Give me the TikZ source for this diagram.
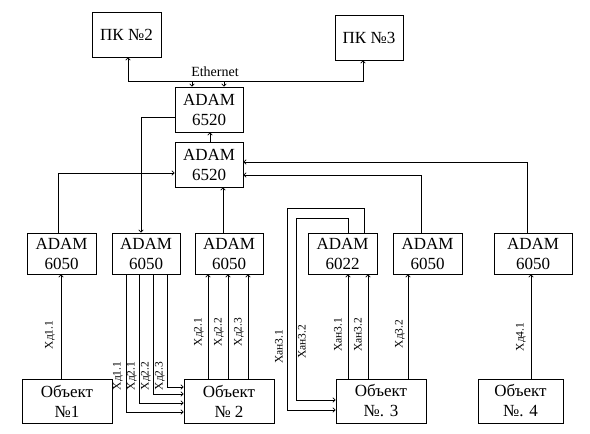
\documentclass[tikz,border=0pt]{standalone}
\usepackage{fontspec}
\setmainfont{Liberation Serif}
\newfontfamily\tnr{Liberation Serif}
\usetikzlibrary{arrows.meta}
\begin{document}
\begin{tikzpicture}[x=1pt,y=-1pt,
  box/.style={draw,line width=0.8pt,align=center,inner sep=0pt,font=\tnr\fontsize{17}{20}\selectfont},
  wire/.style={line width=0.7pt},
  arr/.style={wire,-{To[length=3pt,width=5pt]}},
  darr/.style={wire,{To[length=3pt,width=5pt]}-{To[length=3pt,width=5pt]}},
  lbl/.style={rotate=90,inner sep=0pt,font=\tnr\fontsize{11.5}{12}\selectfont}]
\fill[white] (0,0) rectangle (590,434);
\useasboundingbox (0,0) rectangle (590,434);
% top PCs
\node[box,minimum width=69,minimum height=45] (pk2) at (126.5,34.5) {ПК №2};
\node[box,minimum width=68,minimum height=45] (pk3) at (369,37.5) {ПК №3};
% ADAM 6520
\node[box,minimum width=68,minimum height=45] (at) at (209,109.5) {ADAM\\6520};
\node[box,minimum width=68,minimum height=45] (ab) at (209,164.5) {ADAM\\6520};
% row of modules
\node[box,minimum width=69,minimum height=41] (b1) at (61.5,253.5) {ADAM\\6050};
\node[box,minimum width=68,minimum height=41] (b2) at (146,253.5) {ADAM\\6050};
\node[box,minimum width=68,minimum height=41] (b3) at (229,253.5) {ADAM\\6050};
\node[box,minimum width=69,minimum height=41] (b4) at (342.5,253.5) {ADAM\\6022};
\node[box,minimum width=69,minimum height=41] (b5) at (427.5,253.5) {ADAM\\6050};
\node[box,minimum width=78,minimum height=41] (b6) at (533,253.5) {ADAM\\6050};
% objects
\node[box,minimum width=90,minimum height=44] (o1) at (67,401) {Объект\\№1};
\node[box,minimum width=90,minimum height=44] (o2) at (229,401) {Объект\\№ 2};
\node[box,minimum width=90,minimum height=44] (o3) at (381,401) {Объект\\№. 3};
\node[box,minimum width=85,minimum height=44] (o4) at (520.5,401) {Объект\\№. 4};
% Ethernet
\node[inner sep=0pt,font=\tnr\fontsize{14}{15}\selectfont] (eth) at (215,72) {Ethernet};
\coordinate (eL) at (128,81);
\coordinate (eR) at (363,81);
\coordinate (e1) at (192,81);
\coordinate (e2) at (224,81);
\draw[darr] (eL |- pk2.south) -- (eL) -- (eR) -- (eR |- pk3.south);
\draw[arr] (e1) -- (e1 |- at.north);
\draw[arr] (e2) -- (e2 |- at.north);
% between 6520s
\draw[arr] ([xshift=1]ab.north) -- ([xshift=1]at.south);
\draw[arr] ([yshift=-7.5]at.west) -| ([xshift=-5]b2.north);
\draw[arr] ([xshift=-3]b1.north) |- ([yshift=-8.5]ab.west);
\draw[arr] ([xshift=-6]b3.north) -- ([xshift=14]ab.south);
\draw[arr] ([xshift=-6]b6.north) |- ([yshift=2.5]ab.east);
\draw[arr] ([xshift=-6.5]b5.north) |- ([yshift=-10.5]ab.east);
% object 1
\draw[arr] ([xshift=-6]o1.north) -- ([xshift=-0.5]b1.south);
\node[lbl] (l11) at (50,335) {Хд1.1};
% b2 -> object 2
\draw[arr] ([xshift=-20]b2.south) |- ([yshift=-11]o2.west);
\draw[arr] ([xshift=-7]b2.south) |- ([yshift=-2]o2.west);
\draw[arr] ([xshift=7]b2.south) |- ([yshift=7]o2.west);
\draw[arr] ([xshift=21]b2.south) |- ([yshift=14]o2.west);
\node[lbl] (m11) at (118,376) {Хд1.1};
\node[lbl] (m21) at (132,376) {Хд2.1};
\node[lbl] (m22) at (146,376) {Хд2.2};
\node[lbl] (m23) at (160,376) {Хд2.3};
% object 2 -> b3
\draw[arr] ([xshift=-21]o2.north) -- ([xshift=-21]b3.south);
\draw[arr] ([xshift=-1]o2.north) -- ([xshift=-1]b3.south);
\draw[arr] ([xshift=19]o2.north) -- ([xshift=19]b3.south);
\node[lbl] (n21) at (199,332) {Хд2.1};
\node[lbl] (n22) at (219,332) {Хд2.2};
\node[lbl] (n23) at (239,332) {Хд2.3};
% object 3
\draw[arr] ([xshift=-33]o3.north) -- ([xshift=5.5]b4.south);
\draw[arr] ([xshift=-13]o3.north) -- ([xshift=25.5]b4.south);
\draw[arr] ([xshift=27]o3.north) -- ([xshift=-19.5]b5.south);
\node[lbl] (p31) at (338,335) {Хан3.1};
\node[lbl] (p32) at (358,335) {Хан3.2};
\node[lbl] (p33) at (400,334) {Хд3.2};
% loops 6022 -> object 3
\coordinate (lo1) at (287,208);
\coordinate (li1) at (296,218);
\draw[arr] ([xshift=21.5]b4.north) |- (lo1) |- ([yshift=-9]o3.west);
\draw[arr] ([xshift=5.5]b4.north) |- (li1) |- ([yshift=1]o3.west);
\node[lbl] (q31) at (279,347) {Хан3.1};
\node[lbl] (q32) at (302,342) {Хан3.2};
% object 4
\draw[arr] ([xshift=10.5]o4.north) -- ([xshift=-2]b6.south);
\node[lbl] (r41) at (521,337) {Хд4.1};
\end{tikzpicture}
\end{document}
